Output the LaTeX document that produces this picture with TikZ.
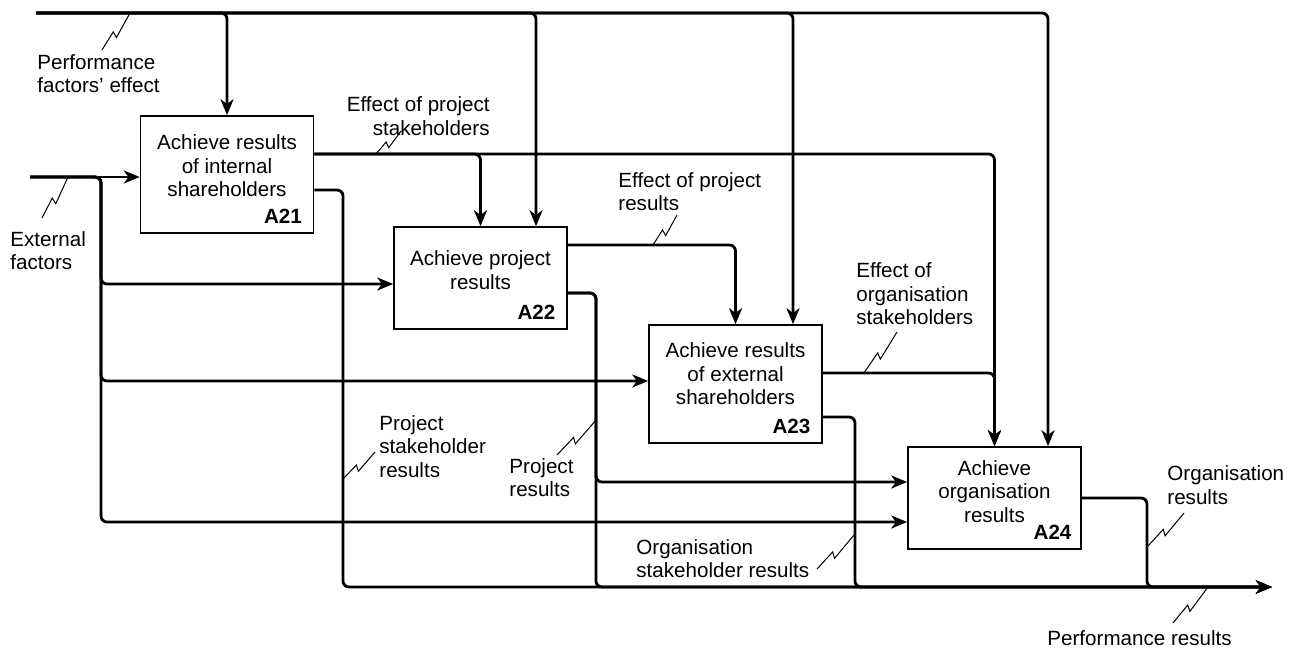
\documentclass[tikz,border=0pt]{standalone}
\usepackage{fontspec}
\setmainfont{Liberation Sans}
\usetikzlibrary{arrows.meta,calc}

% squiggle from the label (lower left) to its line (upper right)
\newcommand{\squig}[2]{%
  \draw[line width=0.5pt] #1 -- ($#1!0.46!#2!1pt!90:#2$) -- ($#1!0.40!#2!2pt!-90:#2$) -- #2;}

\begin{document}
\begin{tikzpicture}[x=0.5pt, y=-0.5pt, >={Stealth[length=8pt,width=6.5pt,inset=2.4pt]},
  box/.style={draw, line width=0.8pt, minimum width=86.5pt, inner sep=0pt},
  boxtext/.style={align=center, inner sep=0pt},
  boxnum/.style={anchor=south east, inner sep=0pt, font=\bfseries},
  flow/.style={line width=1.4pt, rounded corners=3pt},
  lbl/.style={align=left, anchor=west, inner sep=0pt}]
\fontsize{10.3pt}{11.75pt}\selectfont
\useasboundingbox (0,0) rectangle (1294,649);

% activity boxes
\node[box, minimum height=58.5pt] (a21) at (227,174.5) {};
\node[boxtext] (a21t) at ([yshift=4.25pt]a21.center) {Achieve results\\of internal\\shareholders};
\node[boxnum] (a21n) at ([shift={(-6pt,5pt)}]a21.south east) {A21};

\node[box, minimum height=51pt] (a22) at (480.5,278) {};
\node[boxtext] (a22t) at ([yshift=4pt]a22.center) {Achieve project\\results};
\node[boxnum] (a22n) at ([shift={(-6pt,5pt)}]a22.south east) {A22};

\node[box, minimum height=59pt] (a23) at (735.5,384) {};
\node[boxtext] (a23t) at ([yshift=5pt]a23.center) {Achieve results\\of external\\shareholders};
\node[boxnum] (a23n) at ([shift={(-6pt,5pt)}]a23.south east) {A23};

\node[box, minimum height=51pt] (a24) at (994.5,498) {};
\node[boxtext] (a24t) at ([yshift=3.25pt]a24.center) {Achieve\\organisation\\results};
\node[boxnum] (a24n) at ([shift={(-5pt,5pt)}]a24.south east) {A24};

% free ends and bends
\coordinate (pf) at (36,13);
\coordinate (ef) at (30,177);
\coordinate (eft) at (101,177);
\coordinate (pr) at (1272,587);
\coordinate (j21) at (343,587);
\coordinate (j22) at (596,482);
\coordinate (j22b) at (596,587);
\coordinate (j23) at (855,587);
\coordinate (j24) at (1147,587);

% performance factors' effect
\draw[flow,->] (pf) -| (a21.north);
\draw[flow,->] (pf) -| ([xshift=27.75pt]a22.north);
\draw[flow,->] (pf) -| ([xshift=28.75pt]a23.north);
\draw[flow,->] (pf) -| ([xshift=26.75pt]a24.north);

% external factors
\draw[flow,->] (ef) -- (ef -| a21.west);
\draw[flow,->] (ef) -- (eft) |- ([yshift=-3pt]a22.west);
\draw[flow,->] (ef) -- (eft) |- ([yshift=1.5pt]a23.west);
\draw[flow,->] (ef) -- (eft) |- ([yshift=-12pt]a24.west);

% outputs
\draw[flow,->] ([yshift=10.25pt]a21.east) -| (a22.north);
\draw[flow,->] ([yshift=10.25pt]a21.east) -| (a24.north);
\draw[flow,->] ([yshift=-7.75pt]a21.east) -| (j21) -- (pr);
\draw[flow,->] ([yshift=16.5pt]a22.east) -| (a23.north);
\draw[flow,->] ([yshift=-7.5pt]a22.east) -| (j22) -- (j22 -| a24.west);
\draw[flow,->] ([yshift=-7.5pt]a22.east) -| (j22b) -- (pr);
\draw[flow,->] ([yshift=5.5pt]a23.east) -| (a24.north);
\draw[flow,->] ([yshift=-16.5pt]a23.east) -| (j23) -- (pr);
\draw[flow,->] (a24.east) -| (j24) -- (pr);

% labels
\node[lbl] (pfe) at (37,73.5) {Performance\\factors’ effect};
\node[lbl] (ext) at (10,250.5) {External\\factors};
\node[lbl, anchor=east, align=right] (eps) at (490,116) {Effect of project\\stakeholders};
\node[lbl] (epr) at (618,191.5) {Effect of project\\results};
\node[lbl] (eos) at (856,294) {Effect of\\organisation\\stakeholders};
\node[lbl] (psr) at (379,446.5) {Project\\stakeholder\\results};
\node[lbl] (prr) at (509,477.5) {Project\\results};
\node[lbl] (osr) at (636,558.5) {Organisation\\stakeholder results};
\node[lbl] (orr) at (1167,485) {Organisation\\results};
\node[lbl] (perr) at (1047,638) {Performance results};

\squig{(102,50)}{(130,13)}
\squig{(42,218)}{(68,177)}
\squig{(376,154)}{(401,131)}
\squig{(653,245)}{(677,215)}
\squig{(864,373)}{(897,332)}
\squig{(343,479)}{(375,452)}
\squig{(557,455)}{(596,420)}
\squig{(817,569)}{(854,535)}
\squig{(1148,546)}{(1184,513)}
\squig{(1173,623)}{(1208,587)}
\end{tikzpicture}
\end{document}
